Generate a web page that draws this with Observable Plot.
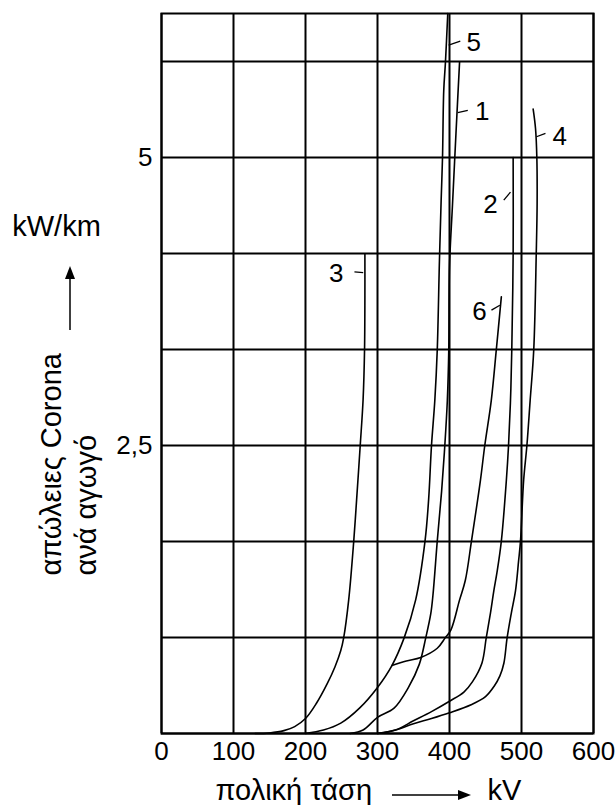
<!DOCTYPE html>
<html>
<head>
<meta charset="utf-8">
<script src="https://cdn.jsdelivr.net/npm/d3@7"></script>
<script src="https://cdn.jsdelivr.net/npm/@observablehq/plot@0.6"></script>
<style>
  html, body { margin: 0; padding: 0; background: #fff; }
  #chart { width: 615px; height: 805px; }
</style>
</head>
<body>
<div id="chart"></div>
<script>
// Curves: [kV, kW/km]
const curve1 = [[262,0],[280,0.03],[300,0.14],[323,0.22],[343,0.4],[358,0.6],[367,0.83],[374,1.04],[377,1.2],[383,1.67],[389,2.1],[393.5,2.5],[397,2.89],[399,3.33],[400,4.05],[404,4.57],[409,5.21],[414,5.83]];
const curve2 = [[300,0],[325,0.03],[350,0.11],[375,0.19],[400,0.28],[420,0.36],[432,0.45],[445,0.61],[451,0.83],[457,1.05],[461.6,1.24],[466,1.4],[472,1.67],[479,2.2],[482,2.5],[484.7,2.89],[486.5,3.33],[488.4,4.17],[488.4,5.0]];
const curve3 = [[130,0],[150,0.005],[170,0.025],[185,0.06],[200,0.13],[215,0.26],[230,0.43],[241,0.58],[249,0.72],[253,0.83],[260,1.16],[267,1.67],[271,2.03],[276,2.5],[280,2.9],[282,3.33],[282.5,3.8],[282.5,4.16]];
const curve4 = [[300,0],[325,0.03],[350,0.085],[375,0.13],[400,0.18],[430,0.25],[450,0.32],[462,0.41],[470,0.5],[475.5,0.61],[480,0.83],[486,1.05],[491.7,1.24],[496,1.5],[498.6,1.67],[503,2.2],[507.5,2.5],[512,2.89],[517,3.33],[520.5,4.17],[521.7,4.6],[521.3,5.0],[519.5,5.25],[516.2,5.42]];
const curve5 = [[200,0],[225,0.03],[249,0.09],[275,0.22],[300,0.4],[320,0.59],[337,0.83],[353,1.16],[366,1.67],[371,2.03],[375,2.5],[379.6,2.89],[383,3.33],[386,4.1],[388.4,4.63],[390.3,5.0],[392,5.58],[394.4,5.83],[397.6,6.25]];
const curve6 = [[320,0.59],[340,0.63],[360,0.66],[383,0.74],[394,0.83],[402,0.9],[414,1.16],[422,1.33],[430.5,1.67],[443,2.2],[449,2.5],[458,2.89],[465,3.33],[472,3.79]];

// Curve labels: name, label position, leader start/end
const labelNames = ["1","2","3","4","5","6"];
const labelPos = [[445.4,5.40],[457,4.59],[242.6,3.99],[553.2,5.18],[433.8,6.0],[441.7,3.66]];
const leaderFrom = [[411.5,5.39],[484.7,4.70],[280.1,4.00],[520.8,5.18],[398.8,5.975],[469.9,3.718]];
const leaderTo = [[425.4,5.41],[475.4,4.63],[268,4.007],[533.3,5.21],[415,6.01],[458.3,3.675]];

const xTicks = [0,100,200,300,400,500,600];
const yGrid = [0,1,2,3,4,5,6,7].map(k => k * 2.5 / 3);
const yTicks = [2.5, 5];
const yTickLabels = ["2,5", "5"];

const curves = [curve1, curve2, curve3, curve4, curve5, curve6];
const lineData = curves.flatMap((c, i) => c.map(([x, y]) => ({curve: String(i + 1), x, y})));
const labels = labelNames.map((n, i) => ({n, x: labelPos[i][0], y: labelPos[i][1],
  x1: leaderFrom[i][0], y1: leaderFrom[i][1], x2: leaderTo[i][0], y2: leaderTo[i][1]}));

const FONT = "'Liberation Sans', Arial, sans-serif";
const FS = 26;
const FT = 29;

const chart = Plot.plot({
  width: 615,
  height: 805,
  marginLeft: 161,
  marginRight: 22,
  marginTop: 13,
  marginBottom: 72,
  style: {fontFamily: FONT, fontSize: FS + "px", color: "black", background: "white"},
  x: {domain: [0, 600]},
  y: {domain: [0, 6.25]},
  marks: [
    Plot.ruleX(xTicks, {stroke: "black", strokeWidth: 2}),
    Plot.ruleY(yGrid, {stroke: "black", strokeWidth: 2}),
    Plot.frame({stroke: "black", strokeWidth: 2}),
    Plot.line(lineData, {x: "x", y: "y", z: "curve", stroke: "black", strokeWidth: 1.6, curve: "catmull-rom"}),
    Plot.link(labels, {x1: "x1", y1: "y1", x2: "x2", y2: "y2", stroke: "black", strokeWidth: 1.3}),
    Plot.text(labels, {x: "x", y: "y", text: "n", fontSize: FS, fill: "black"}),
    Plot.axisX({ticks: xTicks, tickSize: 0, tickPadding: 8, fontSize: FS, label: null}),
    Plot.axisY({ticks: yTicks, tickSize: 0, tickPadding: 9, fontSize: FS, label: null,
      tickFormat: d => yTickLabels[yTicks.indexOf(d)]}),
    Plot.text(["πολική τάση"], {frameAnchor: "bottom-left", text: d => d, textAnchor: "start", lineAnchor: "bottom", dx: 54, dy: 66, fontSize: FT, fill: "black"}),
    Plot.text(["kV"], {frameAnchor: "bottom-left", text: d => d, textAnchor: "start", lineAnchor: "bottom", dx: 326, dy: 66, fontSize: FT, fill: "black"}),
    Plot.text(["kW/km"], {frameAnchor: "top-left", text: d => d, textAnchor: "middle", lineAnchor: "middle", dx: -105, dy: 213, fontSize: FT, fill: "black"}),
    Plot.text(["απώλειες Corona"], {frameAnchor: "top-left", text: d => d, textAnchor: "start", lineAnchor: "bottom", rotate: -90, dx: -101, dy: 562, fontSize: FT, fill: "black"}),
    Plot.text(["ανά αγωγό"], {frameAnchor: "top-left", text: d => d, textAnchor: "start", lineAnchor: "bottom", rotate: -90, dx: -66, dy: 562, fontSize: FT, fill: "black"})
  ]
});

// axis arrows (decorations)
const svg = d3.select(chart);
const g = svg.append("g").attr("fill", "black").attr("stroke", "black");
g.append("line").attr("x1", 392).attr("y1", 795).attr("x2", 460).attr("y2", 795).attr("stroke-width", 1.5);
g.append("path").attr("d", "M471,795 L458,790 L458,800 Z").attr("stroke", "none");
g.append("line").attr("x1", 70).attr("y1", 330).attr("x2", 70).attr("y2", 277).attr("stroke-width", 1.5);
g.append("path").attr("d", "M70,266 L65,279 L75,279 Z").attr("stroke", "none");

document.getElementById("chart").appendChild(chart);
</script>
</body>
</html>
